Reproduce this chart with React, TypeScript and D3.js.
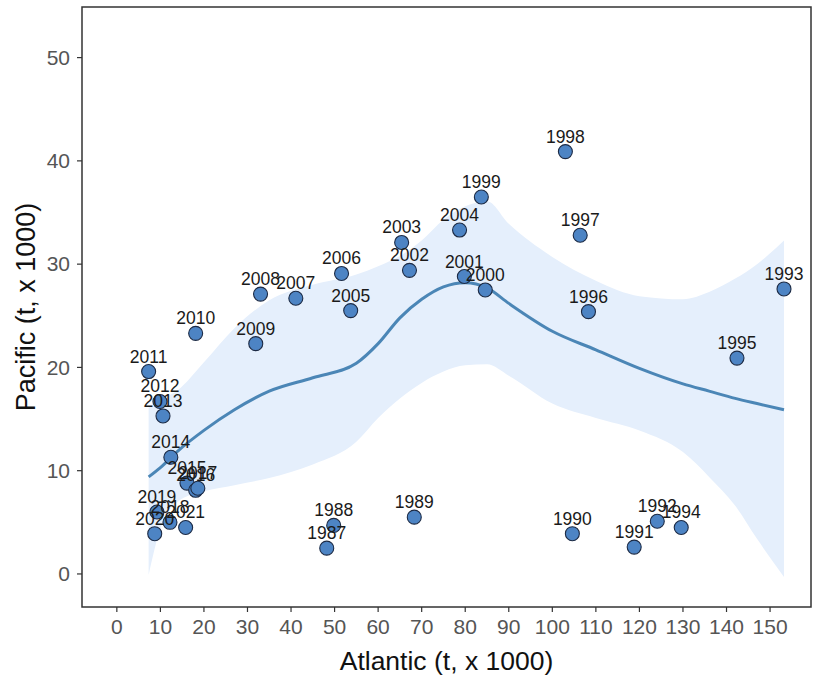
import React from 'react';
import * as d3 from 'd3';

// --- Data (t x 1000) ---
const years = [1987, 1988, 1989, 1990, 1991, 1992, 1993, 1994, 1995, 1996, 1997, 1998, 1999, 2000, 2001, 2002, 2003, 2004, 2005, 2006, 2007, 2008, 2009, 2010, 2011, 2012, 2013, 2014, 2015, 2016, 2017, 2018, 2019, 2020, 2021];
const atlantic = [48.2, 49.8, 68.3, 104.6, 118.8, 124.1, 153.2, 129.6, 142.4, 108.3, 106.4, 103.0, 83.7, 84.6, 79.8, 67.2, 65.4, 78.7, 53.7, 51.6, 41.1, 33.0, 31.9, 18.1, 7.3, 9.9, 10.6, 12.4, 16.1, 18.1, 18.6, 12.2, 9.2, 8.7, 15.8];
const pacific = [2.5, 4.7, 5.5, 3.9, 2.6, 5.1, 27.6, 4.5, 20.9, 25.4, 32.8, 40.9, 36.5, 27.5, 28.8, 29.4, 32.1, 33.3, 25.5, 29.1, 26.7, 27.1, 22.3, 23.3, 19.6, 16.7, 15.3, 11.3, 8.8, 8.1, 8.3, 5.0, 6.0, 3.9, 4.5];

// loess smooth with 95% band
const smoothX = [7.3, 10, 14, 20, 27, 35, 45, 55, 60, 65, 70, 75, 80, 85, 90, 100, 110, 120, 130, 136, 142, 147, 153.2];
const smoothFit = [9.4, 10.3, 11.9, 13.9, 15.9, 17.7, 19.0, 20.4, 22.3, 24.8, 26.6, 27.8, 28.2, 27.7, 26.2, 23.5, 21.7, 19.9, 18.4, 17.7, 17.0, 16.5, 15.9];
const smoothUpper = [16.2, 16.9, 17.8, 20.5, 23.8, 26.5, 28.0, 29.0, 29.8, 30.8, 32.3, 34.3, 35.6, 36.1, 33.9, 30.7, 28.4, 26.9, 26.6, 27.3, 28.6, 30.0, 32.3];
const smoothLower = [-0.1, 4.4, 7.0, 8.0, 8.6, 9.3, 10.6, 12.8, 15.1, 17.0, 18.5, 19.6, 20.2, 20.3, 19.2, 16.5, 15.1, 13.9, 11.8, 9.4, 6.6, 3.4, -0.3];

const xTicks = d3.range(0, 151, 10);
const yTicks = [0, 10, 20, 30, 40, 50];

const W = 814;
const H = 678;
const panel = { left: 82, top: 7, right: 811, bottom: 607 };
const font = 'Liberation Sans, Arial, sans-serif';

export default function App() {
    const x = d3.scaleLinear().domain([-8, 159.4]).range([panel.left, panel.right]);
    const y = d3.scaleLinear().domain([-3.2, 54.9]).range([panel.bottom, panel.top]);

    const band = smoothX.map((v, i) => ({ x: v, lo: smoothLower[i], hi: smoothUpper[i], fit: smoothFit[i] }));
    const area = d3.area<any>()
        .x(d => x(d.x))
        .y0(d => y(d.lo))
        .y1(d => y(d.hi))
        .curve(d3.curveMonotoneX);
    const line = d3.line<any>()
        .x(d => x(d.x))
        .y(d => y(d.fit))
        .curve(d3.curveMonotoneX);

    const points = years.map((yr, i) => ({ yr, a: atlantic[i], p: pacific[i] }));

    return (
        <>
            <style>{`body{margin:0}`}</style>
            <svg width={W} height={H} style={{ display: 'block', background: '#fff' }}>
                <defs>
                    <clipPath id="panel">
                        <rect x={panel.left} y={panel.top} width={panel.right - panel.left} height={panel.bottom - panel.top} />
                    </clipPath>
                </defs>

                <g clipPath="url(#panel)">
                    <path d={area(band) || ''} fill="#e5effc" />
                    <path d={line(band) || ''} fill="none" stroke="#4b86b6" strokeWidth={3} />
                    {points.map(d => (
                        <circle key={d.yr} cx={x(d.a)} cy={y(d.p)} r={7} fill="#4d84c4" stroke="#1c2a44" strokeWidth={1.1} />
                    ))}
                    {points.map(d => (
                        <text key={'t' + d.yr} x={x(d.a)} y={y(d.p) - 9} textAnchor="middle"
                            fontFamily={font} fontSize={17.5} fill="#1a1a1a">{d.yr}</text>
                    ))}
                </g>

                {/* panel box */}
                <rect x={panel.left} y={panel.top} width={panel.right - panel.left} height={panel.bottom - panel.top}
                    fill="none" stroke="#333" strokeWidth={1.5} />

                {/* y axis */}
                {yTicks.map(t => (
                    <g key={'y' + t}>
                        <line x1={panel.left - 5} x2={panel.left} y1={y(t)} y2={y(t)} stroke="#333" strokeWidth={1.2} />
                        <text x={panel.left - 12} y={y(t)} dy="0.35em" textAnchor="end"
                            fontFamily={font} fontSize={21} fill="#555">{t}</text>
                    </g>
                ))}

                {/* x axis */}
                {xTicks.map(t => (
                    <g key={'x' + t}>
                        <line x1={x(t)} x2={x(t)} y1={panel.bottom} y2={panel.bottom + 5} stroke="#333" strokeWidth={1.2} />
                        <text x={x(t)} y={panel.bottom + 27} textAnchor="middle"
                            fontFamily={font} fontSize={21} fill="#555">{t}</text>
                    </g>
                ))}

                <text x={(panel.left + panel.right) / 2} y={670} textAnchor="middle"
                    fontFamily={font} fontSize={26.5} fill="#111">Atlantic (t, x 1000)</text>
                <text transform={`translate(35,${(panel.top + panel.bottom) / 2}) rotate(-90)`} textAnchor="middle"
                    fontFamily={font} fontSize={27} fill="#111">Pacific (t, x 1000)</text>
            </svg>
        </>
    );
}
